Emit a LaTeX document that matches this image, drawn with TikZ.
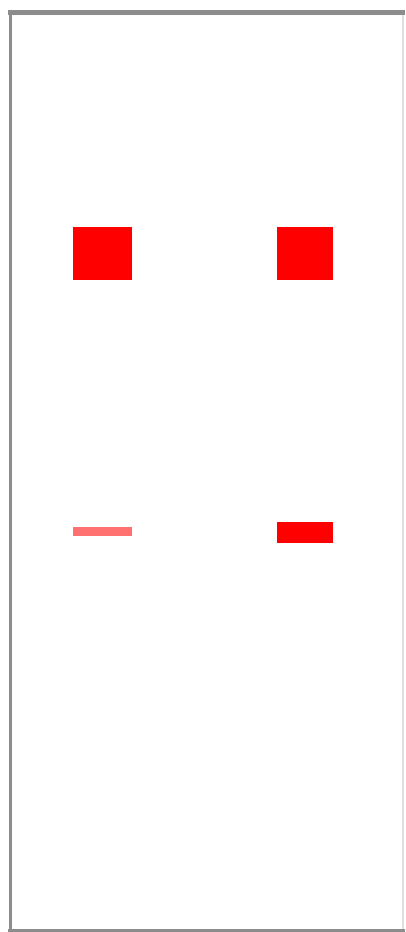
\documentclass[tikz,border=0pt]{standalone}
\usepackage{tikz}
\tikzset{every picture/.style={line width=0.75pt}}
\tikzset{
  gelframe/.style={draw=gray!90,line width=3pt},
  gelside/.style={draw=gray!25,line width=1.5pt},
  band/.style={fill=red},
  faintband/.style={fill=red!65,opacity=0.85},
}

\begin{document}
\begin{tikzpicture}[x=1pt,y=-1pt]
    \useasboundingbox (0,0) rectangle (405,932);
    \fill[white] (0,0) rectangle (405,932);

    % === Gel frame ===
    \draw[gelside] (403,12) -- (403,930);
    \draw[gelframe,line width=5pt] (8,12.5) -- (405,12.5);
    \draw[gelframe] (10,10) -- (10,930);
    \draw[gelframe,line width=2.5pt] (8,930.5) -- (405,930.5);

    % === Lane 1 ===
    \fill[band] (73,227) rectangle (132,280);
    \fill[faintband] (73,527) rectangle (132,536);

    % === Lane 2 ===
    \fill[band] (277,227) rectangle (333,280);
    \fill[band] (277,522) rectangle (333,543);
\end{tikzpicture}
\end{document}
